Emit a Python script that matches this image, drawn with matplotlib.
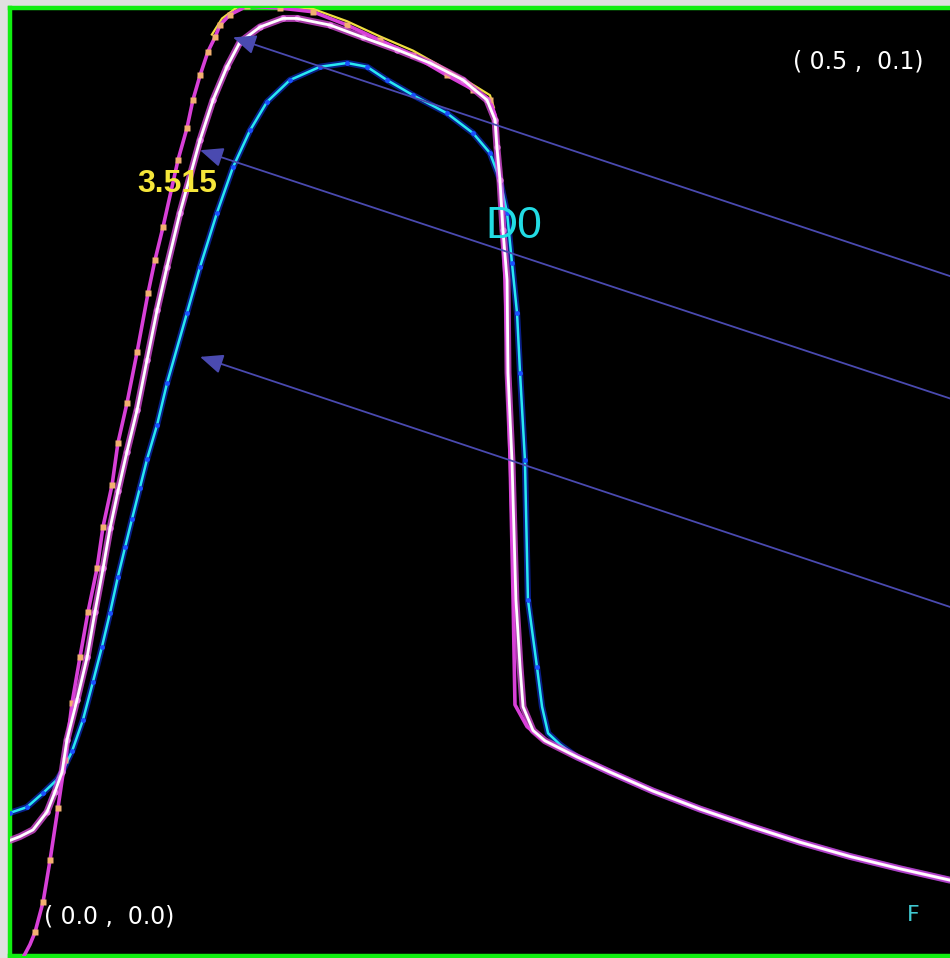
import numpy as np
import matplotlib
matplotlib.use("Agg")
import matplotlib.pyplot as plt

# outer magenta trace (rise, flat top, drop)
mag_x = [0.0074, 0.0106, 0.0133, 0.0176, 0.0213, 0.0255, 0.0293, 0.0330, 0.0372, 0.0415,
         0.0463, 0.0495, 0.0543, 0.0574, 0.0622, 0.0676, 0.0734, 0.0771, 0.0814, 0.0894,
         0.0941, 0.0973, 0.1011, 0.1053, 0.1090, 0.1117, 0.1170, 0.1261, 0.1436, 0.1612,
         0.1793, 0.1968, 0.2144, 0.2324, 0.2463, 0.2553, 0.2580, 0.2596, 0.2617, 0.2633,
         0.2644, 0.2660, 0.2676, 0.2686, 0.2750, 0.2835]
mag_y = [0.0000, 0.0012, 0.0025, 0.0057, 0.0101, 0.0156, 0.0207, 0.0267, 0.0315, 0.0363,
         0.0409, 0.0453, 0.0497, 0.0541, 0.0583, 0.0637, 0.0699, 0.0734, 0.0769, 0.0840,
         0.0873, 0.0903, 0.0929, 0.0954, 0.0969, 0.0982, 0.0993, 0.1002, 0.1000, 0.0996,
         0.0982, 0.0966, 0.0950, 0.0929, 0.0914, 0.0903, 0.0887, 0.0840, 0.0784, 0.0713,
         0.0642, 0.0523, 0.0376, 0.0265, 0.0242, 0.0228]

# yellow edge along the top of the magenta trace
yel_x = [0.1074, 0.1128, 0.1223, 0.1436, 0.1612, 0.1793, 0.1968, 0.2144, 0.2324, 0.2463,
         0.2553, 0.2574]
yel_y = [0.0972, 0.0989, 0.1003, 0.1003, 0.0999, 0.0986, 0.0970, 0.0955, 0.0935, 0.0919,
         0.0908, 0.0895]

# white trace
wht_x = [0.0000, 0.0053, 0.0122, 0.0197, 0.0239, 0.0277, 0.0303, 0.0356, 0.0410, 0.0452,
         0.0495, 0.0532, 0.0574, 0.0622, 0.0676, 0.0729, 0.0782, 0.0835, 0.0904, 0.1011,
         0.1080, 0.1154, 0.1223, 0.1330, 0.1452, 0.1527, 0.1702, 0.1878, 0.2059, 0.2234,
         0.2410, 0.2537, 0.2580, 0.2590, 0.2606, 0.2622, 0.2644, 0.2649, 0.2670, 0.2691,
         0.2713, 0.2729, 0.2782, 0.2846]
wht_y = [0.0122, 0.0126, 0.0133, 0.0152, 0.0173, 0.0194, 0.0228, 0.0270, 0.0315, 0.0363,
         0.0409, 0.0451, 0.0490, 0.0532, 0.0576, 0.0629, 0.0681, 0.0727, 0.0784, 0.0861,
         0.0903, 0.0938, 0.0964, 0.0980, 0.0989, 0.0989, 0.0982, 0.0969, 0.0956, 0.0942,
         0.0924, 0.0903, 0.0882, 0.0853, 0.0819, 0.0766, 0.0713, 0.0615, 0.0523, 0.0376,
         0.0305, 0.0263, 0.0238, 0.0227]

# cyan trace
cyn_x = [0.0000, 0.0090, 0.0176, 0.0250, 0.0282, 0.0330, 0.0388, 0.0441, 0.0489, 0.0532,
         0.0574, 0.0612, 0.0649, 0.0691, 0.0729, 0.0782, 0.0835, 0.0941, 0.1011, 0.1101,
         0.1186, 0.1277, 0.1367, 0.1489, 0.1649, 0.1793, 0.1899, 0.2005, 0.2144, 0.2324,
         0.2463, 0.2553, 0.2606, 0.2644, 0.2670, 0.2697, 0.2713, 0.2739, 0.2755, 0.2803,
         0.2830, 0.2862, 0.2926]
cyn_y = [0.0151, 0.0157, 0.0172, 0.0186, 0.0196, 0.0216, 0.0249, 0.0289, 0.0326, 0.0362,
         0.0400, 0.0431, 0.0461, 0.0494, 0.0524, 0.0560, 0.0604, 0.0678, 0.0727, 0.0784,
         0.0832, 0.0871, 0.0901, 0.0924, 0.0938, 0.0942, 0.0938, 0.0924, 0.0908, 0.0889,
         0.0868, 0.0847, 0.0819, 0.0784, 0.0731, 0.0678, 0.0615, 0.0523, 0.0376, 0.0305,
         0.0263, 0.0235, 0.0223]

# common tail of all traces
tail_x = [0.3016, 0.3191, 0.3420, 0.3670, 0.3936, 0.4202, 0.4468, 0.4734, 0.5000]
tail_y = [0.0210, 0.0194, 0.0174, 0.0155, 0.0137, 0.0120, 0.0105, 0.0092, 0.0080]

# arrows: (tail, tip)
arr_from = [(0.52, 0.0704), (0.52, 0.0575), (0.52, 0.0355)]
arr_to = [(0.1186, 0.0969), (0.1011, 0.0850), (0.1011, 0.0632)]

fig = plt.figure(figsize=(9.5, 9.58), dpi=100, facecolor="#e0e0e0")
ax = fig.add_axes([10 / 950, 2 / 958, 940 / 950, 948 / 958])
ax.set_facecolor("black")
ax.set_xlim(0, 0.5)
ax.set_ylim(0, 0.1)
ax.set_xticks([])
ax.set_yticks([])
for side in ["left", "top", "bottom"]:
    ax.spines[side].set_color("#11ee11")
    ax.spines[side].set_linewidth(3.2)
ax.spines["right"].set_visible(False)

mx = np.concatenate([mag_x, tail_x])
my = np.concatenate([mag_y, tail_y])
wx = np.concatenate([wht_x, tail_x])
wy = np.concatenate([wht_y, tail_y])
cx = np.concatenate([cyn_x, tail_x])
cy = np.concatenate([cyn_y, tail_y])

# cyan with blue glow
ax.plot(cx, cy, color="#1035e0", lw=4.5, alpha=0.6, solid_capstyle="round", zorder=2)
ax.plot(cx, cy, color="#28e8f2", lw=1.8, marker="o", ms=3.5, mfc="#1a50ff", mec="none",
        markevery=list(range(0, 40)), zorder=3)

# magenta outer trace with yellow edge and orange dots
ax.plot(yel_x, yel_y, color="#f0e040", lw=1.6, zorder=3)
ax.plot(mx, my, color="#d840d8", lw=2.6, zorder=4)
ax.plot(mx, my, ls="none", marker="s", ms=4, mfc="#f2b070", mec="none",
        markevery=list(range(2, 36)), zorder=5)

# white with magenta halo and pink dots
ax.plot(wx, wy, color="#e050e0", lw=5, alpha=0.75, solid_capstyle="round", zorder=5)
ax.plot(wx, wy, ls="none", marker="o", ms=4.5, mfc="#e070e0", mec="none",
        markevery=list(range(3, 36)), zorder=5)
ax.plot(wx, wy, color="white", lw=2.0, zorder=6)

for (x0, y0), (x1, y1) in zip(arr_from, arr_to):
    ax.annotate("", xy=(x1, y1), xytext=(x0, y0), annotation_clip=False,
                arrowprops=dict(arrowstyle="-|>,head_length=0.7,head_width=0.3",
                                mutation_scale=20, color="#4a4ab0", lw=1.3,
                                shrinkA=0, shrinkB=0),
                zorder=7)

ax.text(0.4511, 0.0944, "( 0.5 ,  0.1)", color="white", fontsize=17,
        ha="center", va="center", family="DejaVu Sans", zorder=8)
ax.text(0.0527, 0.0042, "( 0.0 ,  0.0)", color="white", fontsize=17,
        ha="center", va="center", family="DejaVu Sans", zorder=8)
ax.text(0.0888, 0.0814, "3.515", color="#f5e63a", fontsize=23, fontweight="bold",
        ha="center", va="center", family="Liberation Sans", zorder=8)
ax.text(0.2681, 0.0770, "D0", color="#22dce4", fontsize=32,
        ha="center", va="center", family="Liberation Sans", zorder=8)
ax.text(0.4803, 0.0043, "F", color="#40c8d0", fontsize=16,
        ha="center", va="center", family="DejaVu Sans", zorder=8)

fig.savefig("out.png", dpi=100, facecolor=fig.get_facecolor())
